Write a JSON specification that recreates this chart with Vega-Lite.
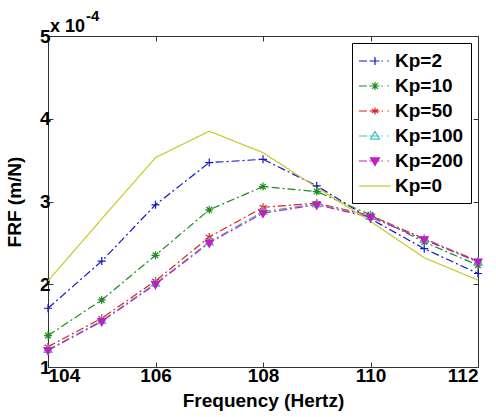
{
  "$schema": "https://vega.github.io/schema/vega-lite/v6.json",
  "width": 430,
  "height": 331,
  "autosize": "none",
  "padding": {"left": 48, "top": 36, "right": 18, "bottom": 50},
  "background": "white",
  "config": {
    "view": {"stroke": "#333333", "strokeWidth": 1},
    "axis": {
      "labelFont": "Liberation Sans", "labelFontSize": 19, "labelFontWeight": "bold", "labelColor": "black",
      "titleFont": "Liberation Sans", "titleFontSize": 19, "titleFontWeight": "bold", "titleColor": "black",
      "grid": false, "domain": false, "tickColor": "#333333", "tickSize": -5, "tickWidth": 1
    }
  },
  "data": {
    "values": [
      {"f": 104, "v": 1.71, "s": "Kp=2"}, {"f": 105, "v": 2.28, "s": "Kp=2"}, {"f": 106, "v": 2.96, "s": "Kp=2"},
      {"f": 107, "v": 3.47, "s": "Kp=2"}, {"f": 108, "v": 3.51, "s": "Kp=2"}, {"f": 109, "v": 3.19, "s": "Kp=2"},
      {"f": 110, "v": 2.79, "s": "Kp=2"}, {"f": 111, "v": 2.43, "s": "Kp=2"}, {"f": 112, "v": 2.13, "s": "Kp=2"},
      {"f": 104, "v": 1.38, "s": "Kp=10"}, {"f": 105, "v": 1.81, "s": "Kp=10"}, {"f": 106, "v": 2.35, "s": "Kp=10"},
      {"f": 107, "v": 2.90, "s": "Kp=10"}, {"f": 108, "v": 3.18, "s": "Kp=10"}, {"f": 109, "v": 3.12, "s": "Kp=10"},
      {"f": 110, "v": 2.84, "s": "Kp=10"}, {"f": 111, "v": 2.51, "s": "Kp=10"}, {"f": 112, "v": 2.23, "s": "Kp=10"},
      {"f": 104, "v": 1.245, "s": "Kp=50"}, {"f": 105, "v": 1.59, "s": "Kp=50"}, {"f": 106, "v": 2.04, "s": "Kp=50"},
      {"f": 107, "v": 2.57, "s": "Kp=50"}, {"f": 108, "v": 2.93, "s": "Kp=50"}, {"f": 109, "v": 2.98, "s": "Kp=50"},
      {"f": 110, "v": 2.83, "s": "Kp=50"}, {"f": 111, "v": 2.55, "s": "Kp=50"}, {"f": 112, "v": 2.28, "s": "Kp=50"},
      {"f": 104, "v": 1.21, "s": "Kp=100"}, {"f": 105, "v": 1.56, "s": "Kp=100"}, {"f": 106, "v": 2.01, "s": "Kp=100"},
      {"f": 107, "v": 2.51, "s": "Kp=100"}, {"f": 108, "v": 2.88, "s": "Kp=100"}, {"f": 109, "v": 2.97, "s": "Kp=100"},
      {"f": 110, "v": 2.82, "s": "Kp=100"}, {"f": 111, "v": 2.54, "s": "Kp=100"}, {"f": 112, "v": 2.27, "s": "Kp=100"},
      {"f": 104, "v": 1.20, "s": "Kp=200"}, {"f": 105, "v": 1.55, "s": "Kp=200"}, {"f": 106, "v": 2.00, "s": "Kp=200"},
      {"f": 107, "v": 2.50, "s": "Kp=200"}, {"f": 108, "v": 2.86, "s": "Kp=200"}, {"f": 109, "v": 2.96, "s": "Kp=200"},
      {"f": 110, "v": 2.81, "s": "Kp=200"}, {"f": 111, "v": 2.54, "s": "Kp=200"}, {"f": 112, "v": 2.27, "s": "Kp=200"},
      {"f": 104, "v": 2.04, "s": "Kp=0"}, {"f": 105, "v": 2.79, "s": "Kp=0"}, {"f": 106, "v": 3.53, "s": "Kp=0"},
      {"f": 107, "v": 3.85, "s": "Kp=0"}, {"f": 108, "v": 3.59, "s": "Kp=0"}, {"f": 109, "v": 3.17, "s": "Kp=0"},
      {"f": 110, "v": 2.76, "s": "Kp=0"}, {"f": 111, "v": 2.32, "s": "Kp=0"}, {"f": 112, "v": 2.05, "s": "Kp=0"}
    ]
  },
  "layer": [
    {
      "mark": {"type": "line", "strokeWidth": 1.2},
      "encoding": {
        "x": {"field": "f", "type": "quantitative", "scale": {"domain": [104, 112], "nice": false},
              "axis": {"orient": "bottom", "values": [104, 106, 108, 110, 112], "title": "Frequency (Hertz)", "labelPadding": 4, "titlePadding": 6}},
        "y": {"field": "v", "type": "quantitative", "scale": {"domain": [1, 5], "nice": false, "zero": false},
              "axis": {"orient": "left", "values": [1, 2, 3, 4, 5], "title": "FRF (m/N)", "labelPadding": 3, "titlePadding": 15}},
        "color": {"field": "s", "type": "nominal",
                  "scale": {"domain": ["Kp=2", "Kp=10", "Kp=50", "Kp=100", "Kp=200", "Kp=0"],
                            "range": ["#1414c8", "#1e8c1e", "#e01e1e", "#40c0c0", "#c020c0", "#c8c828"]},
                  "legend": null},
        "strokeDash": {"field": "s", "type": "nominal",
                       "scale": {"domain": ["Kp=2", "Kp=10", "Kp=50", "Kp=100", "Kp=200", "Kp=0"],
                                 "range": [[8, 3, 2, 3], [8, 3, 2, 3], [8, 3, 2, 3], [8, 3, 2, 3], [8, 3, 2, 3], [1, 0]]},
                       "legend": null}
      }
    },
    {
      "transform": [{"filter": "datum.s !== 'Kp=0'"}],
      "mark": {"type": "point", "filled": false, "size": 64, "strokeWidth": 1.2, "opacity": 1},
      "encoding": {
        "x": {"field": "f", "type": "quantitative", "axis": null},
        "y": {"field": "v", "type": "quantitative", "axis": null},
        "color": {"field": "s", "type": "nominal",
                  "scale": {"domain": ["Kp=2", "Kp=10", "Kp=50", "Kp=100", "Kp=200", "Kp=0"],
                            "range": ["#1414c8", "#1e8c1e", "#e01e1e", "#40c0c0", "#c020c0", "#c8c828"]},
                  "legend": null},
        "shape": {"field": "s", "type": "nominal",
                  "scale": {"domain": ["Kp=2", "Kp=10", "Kp=50", "Kp=100", "Kp=200"],
                            "range": ["M-1,0H1M0,-1V1",
                                      "M-1,0H1M0,-1V1M-0.7,-0.7L0.7,0.7M-0.7,0.7L0.7,-0.7",
                                      "M0,-1V1M-0.87,-0.5L0.87,0.5M-0.87,0.5L0.87,-0.5",
                                      "M0,-1.1L1,0.7H-1Z",
                                      "M0,1.1L1,-0.7H-1Z"]},
                  "legend": null},
        "fill": {"condition": {"test": "datum.s === 'Kp=200'", "value": "#c020c0"}, "value": "transparent"}
      }
    },
    {
      "mark": {"type": "point", "filled": false, "opacity": 0},
      "encoding": {
        "x": {"field": "f", "type": "quantitative",
              "axis": {"orient": "top", "values": [104, 106, 108, 110, 112], "labels": false, "title": null}},
        "y": {"field": "v", "type": "quantitative",
              "axis": {"orient": "right", "values": [1, 2, 3, 4, 5], "labels": false, "title": null}},
        "color": {"field": "s", "type": "nominal",
                  "scale": {"domain": ["Kp=2", "Kp=10", "Kp=50", "Kp=100", "Kp=200", "Kp=0"],
                            "range": ["#1414c8", "#1e8c1e", "#e01e1e", "#40c0c0", "#c020c0", "#c8c828"]},
                  "legend": {"title": null, "orient": "none", "legendX": 304, "legendY": 7, "symbolSize": 400,
                             "symbolStrokeWidth": 1.2, "symbolOpacity": 1, "symbolOffset": 5,
                             "labelFont": "Liberation Sans", "labelFontSize": 19,
                             "labelFontWeight": "bold", "labelColor": "black", "labelOffset": 9, "padding": 7, "rowPadding": 4,
                             "strokeColor": "black", "fillColor": "white"}},
        "shape": {"field": "s", "type": "nominal",
                  "scale": {"domain": ["Kp=2", "Kp=10", "Kp=50", "Kp=100", "Kp=200", "Kp=0"],
                            "range": ["M-1.6,0H-0.8M-0.55,0H0.45M0.65,0H0.8M1.25,0H1.4M0,-0.4V0.4M-0.4,0H0.4",
                                      "M-1.6,0H-0.8M-0.55,0H0.45M0.65,0H0.8M1.25,0H1.4M-0.4,0H0.4M0,-0.4V0.4M-0.28,-0.28L0.28,0.28M-0.28,0.28L0.28,-0.28",
                                      "M-1.6,0H-0.8M-0.55,0H0.45M0.65,0H0.8M1.25,0H1.4M0,-0.36V0.36M-0.31,-0.18L0.31,0.18M-0.31,0.18L0.31,-0.18",
                                      "M-1.6,0H-0.8M-0.55,0H0.45M0.65,0H0.8M1.25,0H1.4M0,-0.45L0.45,0.32H-0.45Z",
                                      "M-1.6,0H-0.8M-0.55,0H0.45M0.65,0H0.8M1.25,0H1.4M0,0.45L0.45,-0.32H-0.45ZM0,0.28L0.26,-0.18H-0.26ZM0,0.1L0.1,-0.06H-0.1Z",
                                      "M-1.6,0H1.6"]},
                  "legend": {"title": null, "orient": "none", "legendX": 304, "legendY": 7, "symbolSize": 400,
                             "symbolStrokeWidth": 1.2, "symbolOpacity": 1, "symbolOffset": 5,
                             "labelFont": "Liberation Sans", "labelFontSize": 19,
                             "labelFontWeight": "bold", "labelColor": "black", "labelOffset": 9, "padding": 7, "rowPadding": 4,
                             "strokeColor": "black", "fillColor": "white"}}
      }
    },
    {
      "data": {"values": [{}]},
      "mark": {"type": "text", "text": "x 10", "align": "left", "baseline": "alphabetic", "dx": 2, "dy": -4,
               "font": "Liberation Sans", "fontSize": 18, "fontWeight": "bold", "color": "black"},
      "encoding": {
        "x": {"datum": 104, "type": "quantitative", "axis": null},
        "y": {"datum": 5, "type": "quantitative", "axis": null}
      }
    },
    {
      "data": {"values": [{}]},
      "mark": {"type": "text", "text": "-4", "align": "left", "baseline": "alphabetic", "dx": 38, "dy": -15,
               "font": "Liberation Sans", "fontSize": 15, "fontWeight": "bold", "color": "black"},
      "encoding": {
        "x": {"datum": 104, "type": "quantitative", "axis": null},
        "y": {"datum": 5, "type": "quantitative", "axis": null}
      }
    }
  ],
  "resolve": {"scale": {"shape": "independent", "color": "independent"}, "axis": {"x": "independent", "y": "independent"}}
}
